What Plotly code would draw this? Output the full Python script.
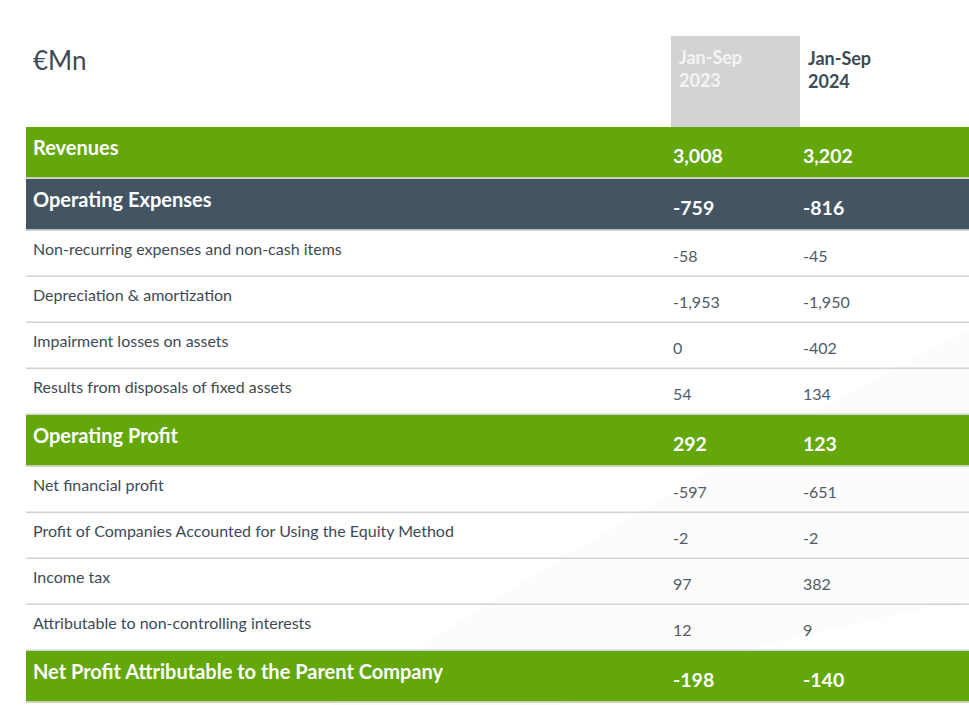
import plotly.graph_objects as go

# table content
labels = [
    "Revenues",
    "Operating Expenses",
    "Non-recurring expenses and non-cash items",
    "Depreciation & amortization",
    "Impairment losses on assets",
    "Results from disposals of fixed assets",
    "Operating Profit",
    "Net financial profit",
    "Profit of Companies Accounted for Using the Equity Method",
    "Income tax",
    "Attributable to non-controlling interests",
    "Net Profit Attributable to the Parent Company",
]
kinds = ["green", "dark", "row", "row", "row", "row",
         "green", "row", "row", "row", "row", "green"]
values_2023 = ["3,008", "-759", "-58", "-1,953", "0", "54",
               "292", "-597", "-2", "97", "12", "-198"]
values_2024 = ["3,202", "-816", "-45", "-1,950", "-402", "134",
               "123", "-651", "-2", "382", "9", "-140"]
col_headers = ["Jan-Sep<br>2023", "Jan-Sep<br>2024"]
unit_label = "€Mn"

W, H = 969, 705
GREEN = "#63a70b"
DARK = "#435563"
GREY_HDR = "#d3d3d3"
LINE = "#d2d2d2"
TXT = "#3e4a55"
FONT = "Lato"

x_left, x_right = 26, 969
x_c1, x_c2 = 671, 801
top = 127

fig = go.Figure()
shapes = []
ann = []

# faint background swoosh
shapes.append(dict(
    type="path", xref="x", yref="y", layer="below",
    path="M 330 705 Q 640 500 969 330 L 969 600 Q 720 650 560 705 Z",
    fillcolor="rgba(0,0,0,0.012)", line=dict(width=0)))

# header box for 2023
shapes.append(dict(type="rect", x0=x_c1, x1=x_c2 - 1, y0=36, y1=top,
                   fillcolor=GREY_HDR, line=dict(width=0), layer="below"))
ann.append(dict(x=31, y=60, text=unit_label, showarrow=False, xanchor="left",
                yanchor="middle", font=dict(family=FONT, size=26, color=TXT)))
ann.append(dict(x=x_c1 + 6, y=68, text="<b>%s</b>" % col_headers[0], showarrow=False,
                xanchor="left", yanchor="middle", align="left",
                font=dict(family=FONT, size=18, color="#f4f4f4")))
ann.append(dict(x=x_c2 + 5, y=69, text="<b>%s</b>" % col_headers[1], showarrow=False,
                xanchor="left", yanchor="middle", align="left",
                font=dict(family=FONT, size=18, color="#3a4b58")))

y = top
for lab, kind, v1, v2 in zip(labels, kinds, values_2023, values_2024):
    h = 52 if kind != "row" else 46
    if kind != "row":
        fill = GREEN if kind == "green" else DARK
        shapes.append(dict(type="rect", x0=x_left, x1=x_right, y0=y, y1=y + h - 1.5,
                           fillcolor=fill, line=dict(width=0)))
        ann.append(dict(x=31, y=y + 20, text="<b>%s</b>" % lab, showarrow=False,
                        xanchor="left", yanchor="middle",
                        font=dict(family=FONT, size=20, color="white")))
        for xv, v in ((x_c1, v1), (x_c2, v2)):
            ann.append(dict(x=xv, y=y + 28, text="<b>%s</b>" % v, showarrow=False,
                            xanchor="left", yanchor="middle",
                            font=dict(family=FONT, size=19.5, color="white")))
    else:
        ann.append(dict(x=31, y=y + 17, text=lab, showarrow=False,
                        xanchor="left", yanchor="middle",
                        font=dict(family=FONT, size=16, color=TXT)))
        for xv, v in ((x_c1, v1), (x_c2, v2)):
            ann.append(dict(x=xv, y=y + 24, text=v, showarrow=False,
                            xanchor="left", yanchor="middle",
                            font=dict(family=FONT, size=16, color="#505b65")))
    # separator under each row
    shapes.append(dict(type="line", x0=x_left, x1=x_right, y0=y + h - 0.75, y1=y + h - 0.75,
                       line=dict(color=LINE, width=1.5)))
    y += h

fig.update_layout(
    width=W, height=H,
    margin=dict(l=0, r=0, t=0, b=0),
    paper_bgcolor="white", plot_bgcolor="white",
    xaxis=dict(range=[0, W], visible=False, fixedrange=True),
    yaxis=dict(range=[H, 0], visible=False, fixedrange=True),
    shapes=shapes, annotations=ann, showlegend=False,
)

fig.write_html("out.html", config={"displayModeBar": False},
               post_script="document.body.style.margin='0';")
